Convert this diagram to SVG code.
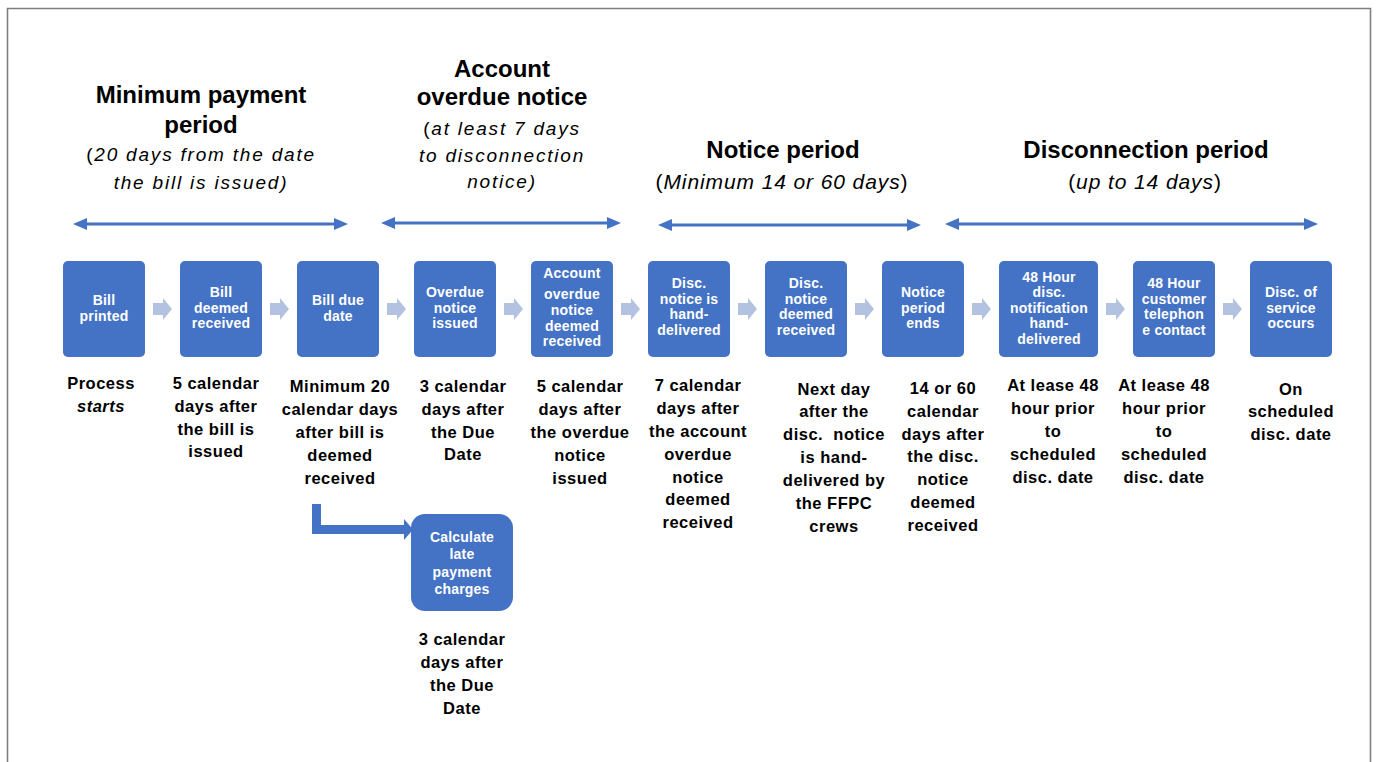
<svg xmlns="http://www.w3.org/2000/svg" width="1377" height="762" viewBox="0 0 1377 762">
<style>
.frame{fill:none;stroke:#7f7f7f;stroke-width:1.6}
.box{fill:#4472c4}
.bt{font-family:"Liberation Sans",Arial,sans-serif;font-weight:bold;font-size:14px;fill:#fff;text-anchor:middle;letter-spacing:0.2px}
.lt{font-family:"Liberation Sans",Arial,sans-serif;font-weight:bold;font-size:16.5px;fill:#000;text-anchor:middle;letter-spacing:0.5px}
.h{font-family:"Liberation Sans",Arial,sans-serif;font-weight:bold;font-size:24px;fill:#000;text-anchor:middle}
.s1{font-family:"Liberation Sans",Arial,sans-serif;font-size:19px;fill:#000;text-anchor:middle;letter-spacing:1.8px}
.s2{font-family:"Liberation Sans",Arial,sans-serif;font-size:21px;fill:#000;text-anchor:middle;letter-spacing:0.9px}
.it{font-style:italic}
.chev{fill:#b4c2e2}
.span{stroke:#4472c4;stroke-width:3;fill:none;marker-start:url(#ah);marker-end:url(#ah)}
.bent{fill:#4472c4}
</style>
<defs>
<marker id="ah" viewBox="0 0 14 12" refX="7" refY="6" markerUnits="userSpaceOnUse" markerWidth="14" markerHeight="12" orient="auto-start-reverse">
<path d="M0,0 L14,6 L0,12 Z" fill="#4472c4"/>
</marker>
<path id="chevron" d="M0,-6 L10,-6 L10,-11 L19,0 L10,11 L10,6 L0,6 Z"/>
</defs>
<rect width="1377" height="762" fill="#fff"/>
<path class="frame" d="M7.5,762 L7.5,8.5 L1370.5,8.5 L1370.5,762"/>

<g id="headings">
<text class="h" x="201" y="103">Minimum payment</text>
<text class="h" x="201" y="133">period</text>
<text class="s1" x="201" y="161">(<tspan class="it">20 days from the date</tspan></text>
<text class="s1" x="201" y="189"><tspan class="it">the bill is issued)</tspan></text>

<text class="h" x="502" y="77">Account</text>
<text class="h" x="502" y="105">overdue notice</text>
<text class="s1" x="502" y="135">(<tspan class="it">at least 7 days</tspan></text>
<text class="s1" x="502" y="162"><tspan class="it">to disconnection</tspan></text>
<text class="s1" x="502" y="188"><tspan class="it">notice)</tspan></text>

<text class="h" x="783" y="158">Notice period</text>
<text class="s2" x="782" y="189">(<tspan class="it">Minimum 14 or 60 days</tspan>)</text>

<text class="h" x="1146" y="158">Disconnection period</text>
<text class="s2" x="1145" y="189">(<tspan class="it">up to 14 days</tspan>)</text>
</g>

<g id="connectors">
<line class="span" x1="80" y1="224" x2="341" y2="224"/>
<line class="span" x1="388" y1="223" x2="614" y2="223"/>
<line class="span" x1="665" y1="225" x2="914" y2="225"/>
<line class="span" x1="952" y1="224" x2="1311" y2="224"/>
<g class="chev">
<use href="#chevron" x="153" y="309"/>
<use href="#chevron" x="270" y="309"/>
<use href="#chevron" x="387" y="309"/>
<use href="#chevron" x="504" y="309"/>
<use href="#chevron" x="621" y="309"/>
<use href="#chevron" x="738" y="309"/>
<use href="#chevron" x="855" y="309"/>
<use href="#chevron" x="972" y="309"/>
<use href="#chevron" x="1106" y="309"/>
<use href="#chevron" x="1223" y="309"/>
</g>
<path class="bent" d="M312,504 L321,504 L321,525 L404,525 L404,519 L413,529.5 L404,540 L404,534 L312,534 Z"/>
</g>

<g id="n1">
<rect class="box" x="63" y="261" width="82" height="96" rx="5"/>
<text class="bt" x="104" y="305">Bill</text>
<text class="bt" x="104" y="321">printed</text>
<text class="lt" x="101" y="389">Process</text>
<text class="lt it" x="101" y="412">starts</text>
</g>
<g id="n2">
<rect class="box" x="180" y="261" width="82" height="96" rx="5"/>
<text class="bt" x="221" y="297">Bill</text>
<text class="bt" x="221" y="313">deemed</text>
<text class="bt" x="221" y="328">received</text>
<text class="lt" x="216" y="389">5 calendar</text>
<text class="lt" x="216" y="412">days after</text>
<text class="lt" x="216" y="435">the bill is</text>
<text class="lt" x="216" y="457">issued</text>
</g>
<g id="n3">
<rect class="box" x="297" y="261" width="82" height="96" rx="5"/>
<text class="bt" x="338" y="305">Bill due</text>
<text class="bt" x="338" y="321">date</text>
<text class="lt" x="340" y="392">Minimum 20</text>
<text class="lt" x="340" y="415">calendar days</text>
<text class="lt" x="340" y="438">after bill is</text>
<text class="lt" x="340" y="461">deemed</text>
<text class="lt" x="340" y="484">received</text>
</g>
<g id="n4">
<rect class="box" x="414" y="261" width="82" height="96" rx="5"/>
<text class="bt" x="455" y="297">Overdue</text>
<text class="bt" x="455" y="313">notice</text>
<text class="bt" x="455" y="328">issued</text>
<text class="lt" x="463" y="392">3 calendar</text>
<text class="lt" x="463" y="415">days after</text>
<text class="lt" x="463" y="438">the Due</text>
<text class="lt" x="463" y="460">Date</text>
</g>
<g id="n5">
<rect class="box" x="531" y="261" width="82" height="96" rx="5"/>
<text class="bt" x="572" y="278">Account</text>
<text class="bt" x="572" y="299">overdue</text>
<text class="bt" x="572" y="315">notice</text>
<text class="bt" x="572" y="331">deemed</text>
<text class="bt" x="572" y="346">received</text>
<text class="lt" x="580" y="392">5 calendar</text>
<text class="lt" x="580" y="415">days after</text>
<text class="lt" x="580" y="438">the overdue</text>
<text class="lt" x="580" y="461">notice</text>
<text class="lt" x="580" y="484">issued</text>
</g>
<g id="n6">
<rect class="box" x="648" y="261" width="82" height="96" rx="5"/>
<text class="bt" x="689" y="288">Disc.</text>
<text class="bt" x="689" y="304">notice is</text>
<text class="bt" x="689" y="319">hand-</text>
<text class="bt" x="689" y="335">delivered</text>
<text class="lt" x="698" y="391">7 calendar</text>
<text class="lt" x="698" y="414">days after</text>
<text class="lt" x="698" y="437">the account</text>
<text class="lt" x="698" y="460">overdue</text>
<text class="lt" x="698" y="483">notice</text>
<text class="lt" x="698" y="505">deemed</text>
<text class="lt" x="698" y="528">received</text>
</g>
<g id="n7">
<rect class="box" x="765" y="261" width="82" height="96" rx="5"/>
<text class="bt" x="806" y="288">Disc.</text>
<text class="bt" x="806" y="304">notice</text>
<text class="bt" x="806" y="319">deemed</text>
<text class="bt" x="806" y="335">received</text>
<text class="lt" x="834" y="395">Next day</text>
<text class="lt" x="834" y="417">after the</text>
<text class="lt" x="834" y="440" xml:space="preserve">disc.  notice</text>
<text class="lt" x="834" y="463">is hand-</text>
<text class="lt" x="834" y="486">delivered by</text>
<text class="lt" x="834" y="509">the FFPC</text>
<text class="lt" x="834" y="532">crews</text>
</g>
<g id="n8">
<rect class="box" x="882" y="261" width="82" height="96" rx="5"/>
<text class="bt" x="923" y="297">Notice</text>
<text class="bt" x="923" y="313">period</text>
<text class="bt" x="923" y="328">ends</text>
<text class="lt" x="943" y="394">14 or 60</text>
<text class="lt" x="943" y="417">calendar</text>
<text class="lt" x="943" y="440">days after</text>
<text class="lt" x="943" y="462">the disc.</text>
<text class="lt" x="943" y="485">notice</text>
<text class="lt" x="943" y="508">deemed</text>
<text class="lt" x="943" y="531">received</text>
</g>
<g id="n9">
<rect class="box" x="999" y="261" width="99" height="96" rx="5"/>
<text class="bt" x="1049" y="282">48 Hour</text>
<text class="bt" x="1049" y="297">disc.</text>
<text class="bt" x="1049" y="313">notification</text>
<text class="bt" x="1049" y="328">hand-</text>
<text class="bt" x="1049" y="344">delivered</text>
<text class="lt" x="1053" y="391">At lease 48</text>
<text class="lt" x="1053" y="414">hour prior</text>
<text class="lt" x="1053" y="437">to</text>
<text class="lt" x="1053" y="460">scheduled</text>
<text class="lt" x="1053" y="483">disc. date</text>
</g>
<g id="n10">
<rect class="box" x="1133" y="261" width="82" height="96" rx="5"/>
<text class="bt" x="1174" y="288">48 Hour</text>
<text class="bt" x="1174" y="304">customer</text>
<text class="bt" x="1174" y="319">telephon</text>
<text class="bt" x="1174" y="335">e contact</text>
<text class="lt" x="1164" y="391">At lease 48</text>
<text class="lt" x="1164" y="414">hour prior</text>
<text class="lt" x="1164" y="437">to</text>
<text class="lt" x="1164" y="460">scheduled</text>
<text class="lt" x="1164" y="483">disc. date</text>
</g>
<g id="n11">
<rect class="box" x="1250" y="261" width="82" height="96" rx="5"/>
<text class="bt" x="1291" y="297">Disc. of</text>
<text class="bt" x="1291" y="313">service</text>
<text class="bt" x="1291" y="328">occurs</text>
<text class="lt" x="1291" y="395">On</text>
<text class="lt" x="1291" y="417">scheduled</text>
<text class="lt" x="1291" y="440">disc. date</text>
</g>
<g id="n12">
<rect class="box" x="411" y="514" width="102" height="97" rx="14"/>
<text class="bt" x="462" y="542">Calculate</text>
<text class="bt" x="462" y="559">late</text>
<text class="bt" x="462" y="577">payment</text>
<text class="bt" x="462" y="594">charges</text>
<text class="lt" x="462" y="645">3 calendar</text>
<text class="lt" x="462" y="668">days after</text>
<text class="lt" x="462" y="691">the Due</text>
<text class="lt" x="462" y="714">Date</text>
</g>
</svg>
